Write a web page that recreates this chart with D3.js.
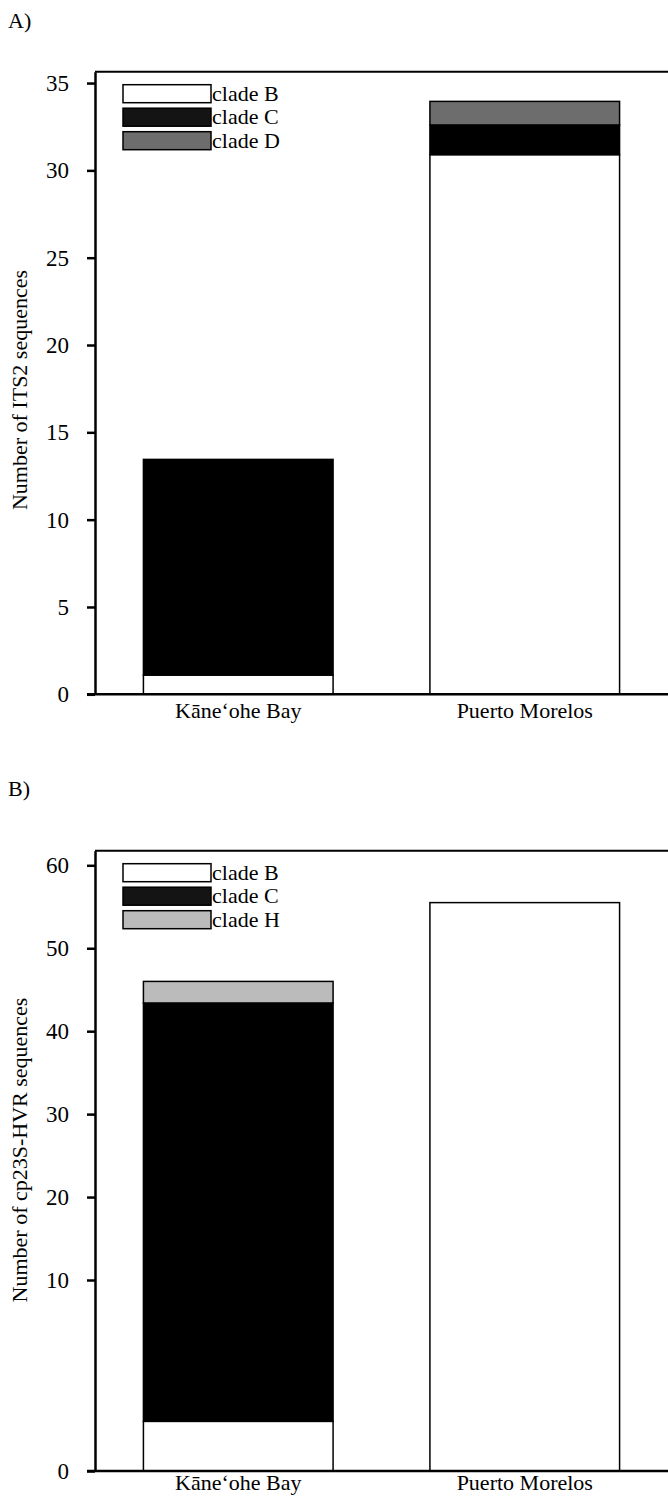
<!DOCTYPE html>
<html>
<head>
<meta charset="utf-8">
<script src="https://cdn.jsdelivr.net/npm/d3@7"></script>
<style>
  body { margin: 0; background: #fff; }
  text { font-family: "Liberation Serif", "DejaVu Serif", serif; fill: #000; }
</style>
</head>
<body>
<svg id="chart" width="668" height="1496"></svg>
<script>
// Sites on the x axis
var sites = ['Kāne‘ohe Bay', 'Puerto Morelos'];

// Panel A: ITS2 sequences
var its2Clades = ['clade B', 'clade C', 'clade D'];
var its2CladeB = [1.1, 30.9];
var its2CladeC = [12.35, 1.7];
var its2CladeD = [0, 1.35];
var its2Ticks = [0, 5, 10, 15, 20, 25, 30, 35];

// Panel B: cp23S-HVR sequences
var cpClades = ['clade B', 'clade C', 'clade H'];
var cpCladeB = [2.6, 55.5];
var cpCladeC = [40.8, 0];
var cpCladeH = [2.6, 0];
var cpTicks = [0, 10, 20, 30, 40, 50, 60];

var svg = d3.select('#chart');

// Draw one stacked bar panel
function drawPanel(opt){
	var g = svg.append('g');

	// panel letter
	g.append('text')
		.attr('x', 8)
		.attr('y', opt.letterY)
		.attr('font-size', 22)
		.text(opt.letter);

	var x = d3.scaleBand()
		.domain(sites)
		.range([95, 668])
		.paddingInner(0.338)
		.paddingOuter(0.169);

	var y = d3.scaleLinear()
		.domain(opt.yDomain)
		.range(opt.yRange);

	var top = opt.yRange[opt.yRange.length - 1],
		bottom = opt.yRange[0];

	// top border of the plot area
	g.append('line')
		.attr('x1', 95).attr('x2', 672)
		.attr('y1', top).attr('y2', top)
		.attr('stroke', '#000').attr('stroke-width', 2);

	// stack the series
	var rows = sites.map(function(s, i){
		var r = {site: s};
		opt.clades.forEach(function(c, j){ r[c] = opt.series[j][i]; });
		return r;
	});
	var stacked = d3.stack().keys(opt.clades)(rows);

	stacked.forEach(function(layer, j){
		g.selectAll(null)
			.data(layer.filter(function(d){ return d[1] - d[0] > 0; }))
			.enter().append('rect')
			.attr('x', function(d){ return x(d.data.site); })
			.attr('width', x.bandwidth())
			.attr('y', function(d){ return y(d[1]); })
			.attr('height', function(d){ return y(d[0]) - y(d[1]); })
			.attr('fill', opt.colors[j])
			.attr('stroke', '#000')
			.attr('stroke-width', 1.5);
	});

	// y axis
	var yAxis = g.append('g')
		.attr('transform', 'translate(95,0)')
		.call(d3.axisLeft(y).tickValues(opt.ticks).tickSize(8).tickSizeOuter(0).tickPadding(18));
	yAxis.select('.domain').attr('stroke-width', 2.5);
	yAxis.selectAll('.tick line').attr('stroke-width', 2.5);
	yAxis.selectAll('.tick text')
		.attr('font-size', 23)
		.attr('font-family', '"Liberation Serif", serif');

	// x axis
	var xAxis = g.append('g')
		.attr('transform', 'translate(0,' + bottom + ')')
		.call(d3.axisBottom(x).tickSize(0).tickPadding(opt.xPad));
	xAxis.select('.domain').remove();
	xAxis.selectAll('.tick text')
		.attr('font-size', 22)
		.attr('font-family', '"Liberation Serif", serif');
	g.append('line')
		.attr('x1', 87).attr('x2', 672)
		.attr('y1', bottom).attr('y2', bottom)
		.attr('stroke', '#000').attr('stroke-width', 2.5);

	// y axis title
	g.append('text')
		.attr('transform', 'translate(27,' + opt.titleY + ') rotate(-90)')
		.attr('text-anchor', 'middle')
		.attr('font-size', 22)
		.text(opt.title);

	// legend
	opt.clades.forEach(function(c, j){
		var ly = top + 13 + j * 23.5;
		g.append('rect')
			.attr('x', 123).attr('y', ly)
			.attr('width', 88).attr('height', 18)
			.attr('fill', j == 1 ? '#141414' : opt.colors[j])
			.attr('stroke', '#000').attr('stroke-width', 1.5);
		g.append('text')
			.attr('x', 212).attr('y', ly + 16)
			.attr('font-size', 22)
			.text(c);
	});
}

drawPanel({
	letter: 'A)', letterY: 28, xPad: 8,
	clades: its2Clades,
	series: [its2CladeB, its2CladeC, its2CladeD],
	colors: ['#ffffff', '#000000', '#6d6d6d'],
	yDomain: [0, 35.65], yRange: [694.3, 71.7],
	ticks: its2Ticks,
	title: 'Number of ITS2 sequences', titleY: 390
});

drawPanel({
	letter: 'B)', letterY: 796, xPad: 3,
	clades: cpClades,
	series: [cpCladeB, cpCladeC, cpCladeH],
	colors: ['#ffffff', '#000000', '#bbbbbb'],
	// the reference axis has a stretched 0-10 interval
	yDomain: [0, 10, 61.76], yRange: [1471, 1280, 850.7],
	ticks: cpTicks,
	title: 'Number of cp23S-HVR sequences', titleY: 1150
});
</script>
</body>
</html>
